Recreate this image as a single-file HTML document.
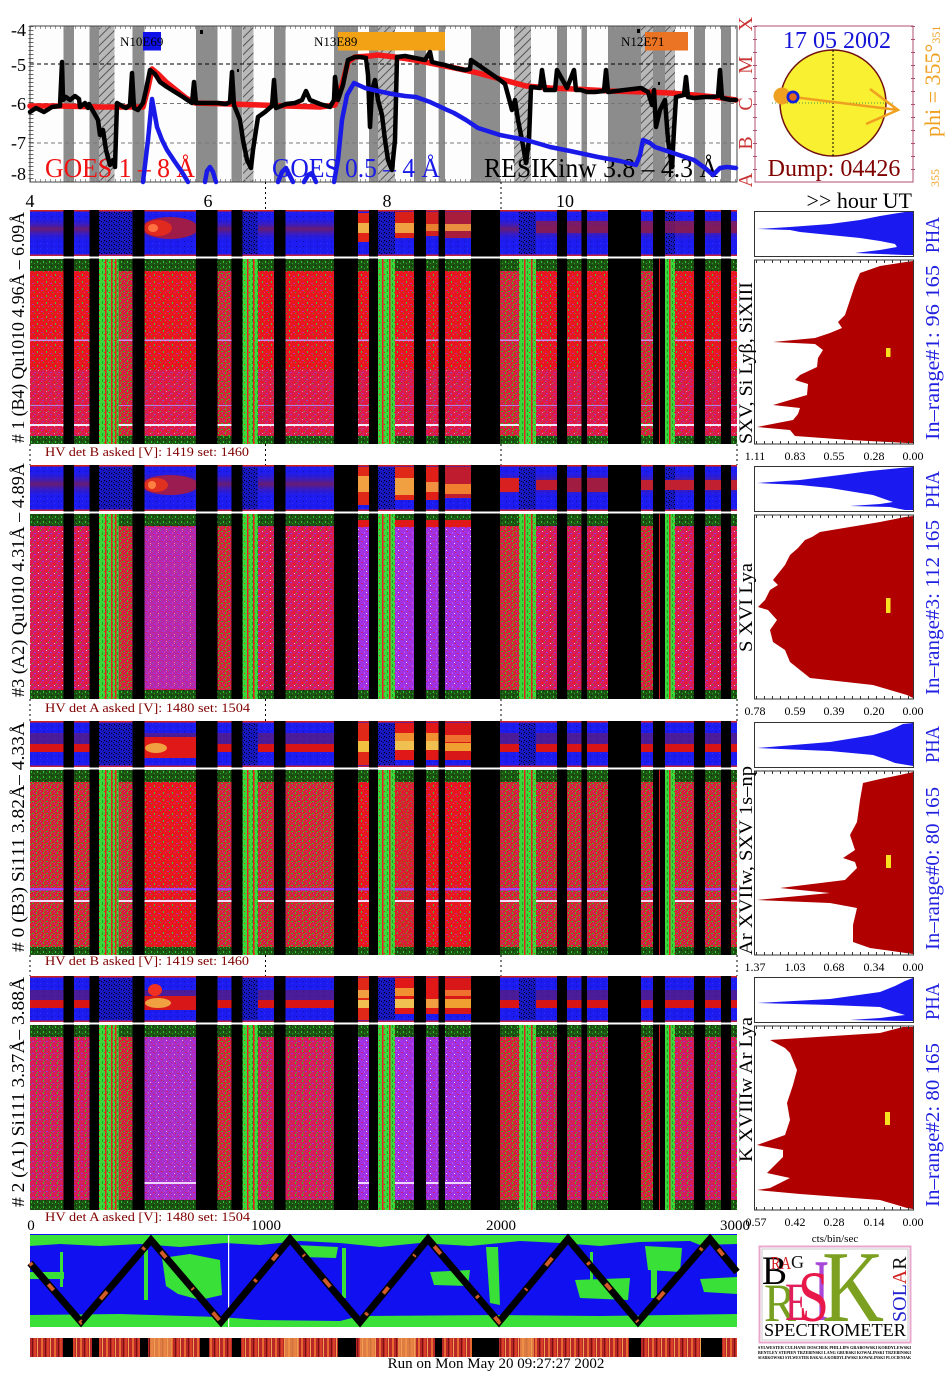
<!DOCTYPE html>
<html><head><meta charset="utf-8"><style>
html,body{margin:0;padding:0;background:#fff;}
svg{display:block;}
text{font-family:"Liberation Serif",serif;}
</style></head><body>
<svg width="948" height="1380" viewBox="0 0 948 1380" xmlns="http://www.w3.org/2000/svg">
<defs>
<pattern id="pR" width="9" height="7" patternUnits="userSpaceOnUse"><rect width="9" height="7" fill="#e8161f"/><rect x="1" y="1" width="1" height="2" fill="#3cc83c"/><rect x="5" y="3" width="2" height="1" fill="#c42aa8"/><rect x="7" y="5" width="1" height="1" fill="#2fb52f"/><rect x="3" y="5" width="1" height="1" fill="#e03a90"/></pattern>
<pattern id="pM" width="8" height="7" patternUnits="userSpaceOnUse"><rect width="8" height="7" fill="#d81c58"/><rect x="2" y="1" width="2" height="1" fill="#9a3ae0"/><rect x="5" y="3" width="2" height="2" fill="#f01818"/><rect x="0" y="5" width="1" height="1" fill="#30c030"/><rect x="6" y="6" width="1" height="1" fill="#e8b8f8"/><rect x="1" y="3" width="1" height="1" fill="#c030c8"/></pattern>
<pattern id="pP" width="8" height="7" patternUnits="userSpaceOnUse"><rect width="8" height="7" fill="#a032e4"/><rect x="1" y="2" width="2" height="1" fill="#d21c78"/><rect x="6" y="4" width="1" height="1" fill="#f4d8ff"/><rect x="4" y="0" width="1" height="2" fill="#c050f0"/><rect x="7" y="6" width="1" height="1" fill="#e02050"/></pattern>
<pattern id="pX" width="7" height="6" patternUnits="userSpaceOnUse"><rect width="7" height="6" fill="#d42436"/><rect x="1" y="0" width="1" height="2" fill="#2ac82a"/><rect x="4" y="3" width="2" height="1" fill="#2ab82a"/><rect x="2" y="4" width="1" height="1" fill="#38d038"/><rect x="6" y="1" width="1" height="1" fill="#b02ab0"/><rect x="5" y="5" width="1" height="1" fill="#c030b0"/></pattern>
<pattern id="pN" width="7" height="6" patternUnits="userSpaceOnUse"><rect width="7" height="6" fill="#d41e5c"/><rect x="1" y="0" width="1" height="2" fill="#2ac82a"/><rect x="4" y="3" width="2" height="1" fill="#9a34d8"/><rect x="6" y="1" width="1" height="1" fill="#f01818"/><rect x="2" y="4" width="1" height="1" fill="#32c032"/></pattern>
<pattern id="pDG" width="6" height="5" patternUnits="userSpaceOnUse"><rect width="6" height="5" fill="#1c5212"/><rect x="1" y="1" width="1" height="2" fill="#30c830"/><rect x="4" y="3" width="1" height="1" fill="#28a828"/><rect x="3" y="0" width="1" height="1" fill="#0a2a0a"/></pattern>
<pattern id="pGr" width="5" height="6" patternUnits="userSpaceOnUse"><rect width="5" height="6" fill="#3ad83a"/><rect x="2" y="1" width="1" height="3" fill="#20a020"/><rect x="4" y="4" width="1" height="1" fill="#e82020"/></pattern>
<pattern id="pB" width="7" height="5" patternUnits="userSpaceOnUse"><rect width="7" height="5" fill="#1c1cf0"/><rect x="2" y="1" width="1" height="1" fill="#1010a0"/><rect x="5" y="3" width="1" height="1" fill="#3030f8"/></pattern>
<pattern id="pBd" width="5" height="4" patternUnits="userSpaceOnUse"><rect width="5" height="4" fill="#1818c0"/><rect x="1" y="1" width="1" height="1" fill="#000030"/><rect x="3" y="2" width="1" height="1" fill="#06065a"/><rect x="4" y="0" width="1" height="1" fill="#000"/></pattern>
<pattern id="hatch" width="6" height="6" patternUnits="userSpaceOnUse" patternTransform="rotate(45)"><rect width="6" height="6" fill="#b8b8b8"/><rect width="1" height="6" fill="#555"/></pattern>
<pattern id="pCB" width="13" height="20" patternUnits="userSpaceOnUse"><rect width="13" height="20" fill="#b82828"/><rect x="2" width="2" height="20" fill="#e86a30"/><rect x="6" width="1" height="20" fill="#7a1010"/><rect x="8" width="2" height="20" fill="#d84028"/><rect x="11" width="1" height="20" fill="#f0a050"/></pattern>
<linearGradient id="gBand" x1="0" y1="0" x2="0" y2="1"><stop offset="0" stop-color="#1c1cf0" stop-opacity="0"/><stop offset="0.5" stop-color="#6a1c70"/><stop offset="1" stop-color="#1c1cf0" stop-opacity="0"/></linearGradient>
<g id="blk" fill="#000">
<rect x="63.5" y="0" width="10.5" height="234"/><rect x="89.5" y="0" width="9.5" height="234"/><rect x="132.5" y="0" width="12" height="234"/><rect x="196" y="0" width="21.5" height="234"/><rect x="231.5" y="0" width="11" height="234"/><rect x="274" y="0" width="11.5" height="234"/><rect x="334" y="0" width="24" height="234"/><rect x="369" y="0" width="9" height="234"/><rect x="414" y="0" width="12" height="234"/><rect x="438.6" y="0" width="6.4" height="234"/><rect x="471" y="0" width="29" height="234"/><rect x="557" y="0" width="10" height="234"/><rect x="581.5" y="0" width="5.5" height="234"/><rect x="608" y="0" width="33" height="234"/><rect x="653" y="0" width="12" height="234"/><rect x="694" y="0" width="11" height="234"/><rect x="721" y="0" width="10" height="234"/>
<rect x="659" y="49" width="1" height="185" fill="#d02020"/>
</g>
<g id="grn">
<rect x="99" y="49" width="19.6" height="185" fill="url(#pGr)"/><rect x="105" y="49" width="1.5" height="185" fill="#e82020"/><rect x="111" y="49" width="1.5" height="185" fill="#e82020"/><rect x="115" y="49" width="1.5" height="185" fill="#e82020"/>
<rect x="242.5" y="49" width="15.5" height="185" fill="url(#pGr)"/><rect x="247" y="49" width="1.5" height="185" fill="#e82020"/><rect x="253" y="49" width="1.5" height="185" fill="#e82020"/>
<rect x="378" y="49" width="17" height="185" fill="url(#pGr)"/><rect x="382" y="49" width="1.5" height="185" fill="#e82020"/><rect x="389" y="49" width="1.5" height="185" fill="#e82020"/>
<rect x="519" y="49" width="17" height="185" fill="url(#pGr)"/><rect x="524" y="49" width="1.5" height="185" fill="#e82020"/><rect x="531" y="49" width="1.5" height="185" fill="#e82020"/>
<rect x="665" y="49" width="10" height="185" fill="url(#pGr)"/><rect x="669" y="49" width="1.5" height="185" fill="#e82020"/>
</g>
<g id="gray">
<rect x="63.5" y="26" width="10.5" height="156"/><rect x="89.5" y="26" width="9.5" height="156"/><rect x="132.5" y="26" width="12" height="156"/><rect x="196" y="26" width="21.5" height="156"/><rect x="231.5" y="26" width="11" height="156"/><rect x="274" y="26" width="11.5" height="156"/><rect x="334" y="26" width="24" height="156"/><rect x="369" y="26" width="9" height="156"/><rect x="414" y="26" width="12" height="156"/><rect x="438.6" y="26" width="6.4" height="156"/><rect x="471" y="26" width="29" height="156"/><rect x="557" y="26" width="10" height="156"/><rect x="581.5" y="26" width="5.5" height="156"/><rect x="608" y="26" width="33" height="156"/><rect x="653" y="26" width="12" height="156"/><rect x="694" y="26" width="11" height="156"/><rect x="721" y="26" width="10" height="156"/>
</g>
</defs>

<!-- ============ TOP CHART ============ -->
<rect x="30" y="26" width="707" height="156" fill="#fdfdfd"/>
<use href="#gray" fill="#8c8c8c"/>
<g fill="url(#hatch)">
<rect x="99" y="26" width="15.5" height="156"/><rect x="243" y="26" width="10.5" height="156"/><rect x="378" y="26" width="17" height="156"/><rect x="514" y="26" width="17" height="156"/><rect x="641" y="26" width="12" height="156"/><rect x="665" y="26" width="10" height="156"/>
</g>
<line x1="30" y1="64" x2="737" y2="64" stroke="#000" stroke-width="1" stroke-dasharray="4,3"/>
<line x1="30" y1="103.5" x2="737" y2="103.5" stroke="#777" stroke-width="1" stroke-dasharray="4,3"/>
<line x1="30" y1="143" x2="737" y2="143" stroke="#777" stroke-width="1" stroke-dasharray="4,3"/>
<line x1="31" y1="26" x2="31" y2="182" stroke="#666" stroke-width="5" stroke-dasharray="1,3"/>
<line x1="30" y1="27.5" x2="737" y2="27.5" stroke="#999" stroke-width="3" stroke-dasharray="1,4"/>
<line x1="30" y1="180.5" x2="737" y2="180.5" stroke="#999" stroke-width="3" stroke-dasharray="1,4"/>
<rect x="30" y="26" width="707" height="156" fill="none" stroke="#444" stroke-width="1"/>
<!-- region labels -->
<rect x="143" y="32" width="18" height="18.5" fill="#1010e8"/>
<rect x="338" y="32" width="107" height="18.5" fill="#f2a214"/>
<rect x="645" y="32" width="43" height="18.5" fill="#ea7424"/>
<text x="120" y="46" font-size="13" fill="#000">N10E69</text>
<text x="314" y="46" font-size="13" fill="#000">N13E89</text>
<text x="621" y="46" font-size="13" fill="#000">N12E71</text>
<rect x="200" y="30" width="3" height="4" fill="#000"/><rect x="637" y="29" width="3" height="4" fill="#000"/><rect x="237" y="69" width="2" height="3" fill="#000"/><rect x="658" y="82" width="2" height="3" fill="#000"/>
<!-- legend texts -->
<text x="45" y="177" font-size="27" fill="#f01010" textLength="150" lengthAdjust="spacingAndGlyphs">GOES 1 – 8 Å</text>
<text x="272" y="177" font-size="27" fill="#1a1ae8" textLength="168" lengthAdjust="spacingAndGlyphs">GOES 0.5 – 4 Å</text>
<text x="484" y="177" font-size="27" fill="#000" textLength="234" lengthAdjust="spacingAndGlyphs">RESIKinw 3.8 – 4.3 Å</text>
<!-- curves -->
<g fill="none" stroke-linejoin="round" stroke-linecap="round">
<path d="M30,106 L60,106 L100,107 L143,107 L148,88 L152,69 L158,74 L166,82 L176,90 L186,98 L195,103 L230,104 L260,105 L287,106 L320,107 L335,105 L342,85 L348,62 L355,57 L370,56 L378,55 L395,57 L415,60 L430,63 L455,68 L478,73 L500,79 L526,86 L550,88 L574,89 L610,91 L646,92 L670,93 L694,95 L715,97 L736,100" stroke="#f41818" stroke-width="5.5"/>
<path d="M30,112 L36,108 L44,112 L52,107 L60,106 L62,62 L63,100 L66,97 L70,100 L75,96 L79,99 L80,107 L85,103 L88,108 L89,104 L98,120 L100,135 L103,130 L106,150 L110,165 L113,160 L115,167 L117,103 L122,106 L126,108 L130,105 L132,73 L134,108 L138,110 L143,103 L146,90 L150,70 L155,74 L160,82 L167,87 L175,92 L183,97 L192,103 L194,82 L196,103 L218,103 L226,104 L230,102 L232,72 L234,105 L240,120 L243,140 L247,160 L251,168 L253,150 L258,117 L265,112 L272,106 L274,80 L276,108 L286,104 L295,103 L302,100 L306,91 L310,100 L320,104 L330,107 L334,100 L335,77 L338,100 L343,85 L348,60 L355,57 L360,57 L366,58 L368,75 L370,127 L372,90 L375,80 L378,100 L382,115 L385,140 L388,160 L392,170 L395,140 L397,57 L405,56 L415,58 L425,60 L430,52 L432,62 L440,64 L445,65 L455,68 L465,70 L470,69 L471,60 L500,80 L505,84 L508,95 L512,110 L515,100 L518,120 L522,140 L526,163 L529,140 L531,87 L540,88 L542,70 L545,90 L555,90 L557,70 L567,88 L574,70 L576,90 L581,90 L587,92 L595,92 L604,91 L606,70 L608,92 L641,88 L648,92 L652,105 L654,90 L656,127 L660,110 L665,100 L668,140 L672,167 L674,130 L676,97 L684,95 L686,77 L688,97 L694,98 L705,97 L712,97 L718,96 L720,70 L722,98 L731,100 L736,100" stroke="#000" stroke-width="4.5"/>
<path d="M143,182 L148,140 L152,99 L157,127 L162,140 L167,150 L175,162 L182,172 L188,182 M205,182 L207,171 L210,167 L213,172 L216,182 M278,182 L282,172 L286,168 L290,176 L293,182 M304,182 L308,175 L312,173 L316,182 M334,182 L338,160 L342,120 L347,95 L354,83 L365,88 L378,91 L392,94 L405,96 L416,97 L430,102 L445,109 L454,113 L466,120 L478,128 L500,135 L526,140 L540,144 L550,147 L570,151 L598,157 L620,161 L636,165 L640,155 L643,140 L650,143 L655,147 L670,152 L694,160 L705,168 L713,175 L720,168 L727,167 L736,168" stroke="#1a1ae8" stroke-width="4.5"/>
</g>
<!-- y labels -->
<g font-size="18" text-anchor="end" fill="#000">
<text x="26" y="36">-4</text><text x="26" y="71">-5</text><text x="26" y="110">-6</text><text x="26" y="149">-7</text><text x="26" y="180">-8</text>
</g>
<g font-size="18" text-anchor="middle" fill="#000">
<text x="30" y="207">4</text><text x="208" y="207">6</text><text x="387" y="207">8</text><text x="565" y="207">10</text>
</g>
<!-- XMCBA -->
<g font-size="20" fill="#c83232" text-anchor="middle">
<text transform="translate(752,24) rotate(-90)">X</text>
<text transform="translate(752,65) rotate(-90)">M</text>
<text transform="translate(752,104) rotate(-90)">C</text>
<text transform="translate(752,143) rotate(-90)">B</text>
<text transform="translate(752,180) rotate(-90)">A</text>
</g>
<!-- sun box -->
<rect x="755" y="26" width="158" height="156" fill="#fff" stroke="#b05070" stroke-width="1"/>
<line x1="755" y1="26" x2="755" y2="182" stroke="#b05070" stroke-width="4" stroke-dasharray="1,12"/>
<line x1="913" y1="26" x2="913" y2="182" stroke="#b05070" stroke-width="4" stroke-dasharray="1,12"/>
<circle cx="833" cy="103" r="53" fill="#f8f030" stroke="#701010" stroke-width="1.5"/>
<line x1="833" y1="50" x2="833" y2="156" stroke="#000" stroke-width="1" stroke-dasharray="2,2"/>
<line x1="772" y1="103" x2="895" y2="103" stroke="#4a9a4a" stroke-width="1" stroke-dasharray="1,2"/>
<circle cx="782" cy="96" r="8.5" fill="#f0a020"/>
<line x1="793" y1="97" x2="898" y2="110" stroke="#f0a020" stroke-width="2.5"/>
<polyline points="870,89 898,110 866,124" fill="none" stroke="#f0a020" stroke-width="2.5"/>
<circle cx="793" cy="97" r="6.5" fill="#1020e0"/>
<circle cx="793" cy="97" r="3.8" fill="#e06a20"/>
<text x="837" y="48" font-size="24" fill="#1414d8" text-anchor="middle">17 05 2002</text>
<text x="834" y="176" font-size="24" fill="#800000" text-anchor="middle">Dump: 04426</text>
<text transform="translate(940,137) rotate(-90)" font-size="22" fill="#f0a020">phi = 355°<tspan font-size="12">351</tspan></text>
<text transform="translate(939,187) rotate(-90)" font-size="12" fill="#f0a020">355</text>
<text x="912" y="208" font-size="22" fill="#000" text-anchor="end">&gt;&gt; hour UT</text>

<!-- dashed separators -->
<g stroke="#000" stroke-width="1" stroke-dasharray="2,3">
<line x1="265.5" y1="182" x2="265.5" y2="210"/><line x1="501" y1="182" x2="501" y2="210"/>
<line x1="30" y1="444" x2="30" y2="465"/><line x1="265.5" y1="444" x2="265.5" y2="465"/><line x1="501" y1="444" x2="501" y2="465"/><line x1="737" y1="444" x2="737" y2="465"/>
<line x1="30" y1="699" x2="30" y2="721"/><line x1="265.5" y1="699" x2="265.5" y2="721"/><line x1="501" y1="699" x2="501" y2="721"/><line x1="737" y1="699" x2="737" y2="721"/>
<line x1="30" y1="955" x2="30" y2="976"/><line x1="265.5" y1="955" x2="265.5" y2="976"/><line x1="501" y1="955" x2="501" y2="976"/><line x1="737" y1="955" x2="737" y2="976"/>
</g>

<!-- ============ PANEL 1 (Y=210) ============ -->
<rect x="30" y="210" width="707" height="46" fill="url(#pB)"/>
<rect x="30" y="216" width="707" height="26" fill="url(#gBand)"/>
<rect x="99" y="212" width="33.5" height="42" fill="url(#pBd)"/>
<rect x="242.5" y="212" width="15.5" height="42" fill="url(#pBd)"/>
<rect x="378" y="212" width="17" height="42" fill="url(#pBd)"/>
<rect x="519" y="212" width="17" height="42" fill="url(#pBd)"/>
<rect x="665" y="212" width="10" height="42" fill="url(#pBd)"/>
<ellipse cx="170" cy="228" rx="28" ry="11" fill="#a01c48"/>
<ellipse cx="158" cy="228" rx="14" ry="8" fill="#e02a20"/>
<ellipse cx="153" cy="228" rx="5" ry="4" fill="#ff7040"/>
<rect x="358" y="213" width="11" height="29" fill="#e02418"/><rect x="358" y="223" width="11" height="10" fill="#f0b048"/>
<rect x="395" y="212" width="19" height="26" fill="#d82018"/><rect x="395" y="223" width="19" height="10" fill="#f0a040"/>
<rect x="426" y="212" width="12.6" height="24" fill="#d02020"/><rect x="426" y="224" width="12.6" height="7" fill="#e88030"/>
<rect x="445" y="212" width="26" height="26" fill="#a81c3c"/><rect x="445" y="224" width="26" height="7" fill="#e89040"/>
<rect x="536" y="221" width="72" height="12" fill="#8a1c50" opacity="0.8"/>
<rect x="641" y="221" width="96" height="12" fill="#8a1c50" opacity="0.8"/>
<rect x="30" y="210" width="707" height="1.5" fill="#d02020"/>
<rect x="30" y="254.5" width="707" height="1.5" fill="#c02040"/>
<rect x="30" y="259" width="707" height="185" fill="url(#pR)"/>
<rect x="30" y="370" width="707" height="66" fill="url(#pM)" opacity="0.75"/>
<rect x="30" y="259" width="707" height="12" fill="url(#pDG)"/>
<rect x="30" y="436" width="707" height="8" fill="url(#pDG)"/>
<g fill="url(#pX)"><rect x="118.6" y="271" width="14" height="165"/><rect x="217.5" y="271" width="14" height="165"/><rect x="500" y="271" width="19" height="165"/><rect x="641" y="271" width="12" height="165"/></g>
<rect x="30" y="339.5" width="707" height="1.5" fill="#c890f0"/>
<rect x="30" y="405" width="707" height="1" fill="#b878e8"/>
<rect x="30" y="424" width="707" height="2" fill="#f4e8ff"/>
<use href="#grn" transform="translate(0,210)"/>
<use href="#blk" transform="translate(0,210)"/>
<rect x="30" y="256.5" width="707" height="2" fill="#fff"/>

<!-- ============ PANEL 2 (Y=465) ============ -->
<rect x="30" y="465" width="707" height="46" fill="url(#pB)"/>
<rect x="30" y="470" width="707" height="28" fill="url(#gBand)"/>
<rect x="99" y="467" width="33.5" height="42" fill="url(#pBd)"/>
<rect x="242.5" y="467" width="15.5" height="42" fill="url(#pBd)"/>
<rect x="378" y="467" width="17" height="42" fill="url(#pBd)"/>
<rect x="519" y="467" width="17" height="42" fill="url(#pBd)"/>
<rect x="665" y="467" width="10" height="42" fill="url(#pBd)"/>
<ellipse cx="170" cy="485" rx="28" ry="10" fill="#9a1c50"/>
<ellipse cx="156" cy="485" rx="12" ry="7" fill="#e03020"/>
<circle cx="152" cy="485" r="4" fill="#ff8040"/>
<rect x="358" y="467" width="11" height="38" fill="#e02818"/><rect x="358" y="476" width="11" height="16" fill="#f0a040"/>
<rect x="395" y="467" width="19" height="33" fill="#e02818"/><rect x="395" y="478" width="19" height="17" fill="#f0a040"/>
<rect x="426" y="467" width="12.6" height="33" fill="#e02018"/><rect x="426" y="482" width="12.6" height="10" fill="#f09040"/>
<rect x="445" y="467" width="26" height="31" fill="#c01c30"/><rect x="445" y="484" width="26" height="10" fill="#f08030"/>
<rect x="500" y="478" width="19" height="14" fill="#d82020"/>
<rect x="536" y="480" width="21" height="10" fill="#c01c30"/>
<rect x="567" y="478" width="41" height="14" fill="#a01c40"/>
<rect x="641" y="480" width="96" height="10" fill="#c02030"/>
<rect x="202" y="466" width="1.2" height="44" fill="#f0a040"/>
<rect x="30" y="465" width="707" height="1.5" fill="#d02020"/>
<rect x="30" y="509.5" width="707" height="1.5" fill="#c02040"/>
<rect x="30" y="514" width="707" height="185" fill="url(#pM)"/>
<rect x="144.5" y="527" width="51.5" height="162" fill="url(#pP)" opacity="0.6"/>
<g fill="url(#pP)"><rect x="358" y="526" width="11" height="164"/><rect x="395" y="526" width="19" height="164"/><rect x="426" y="526" width="12.6" height="164"/><rect x="445" y="526" width="26" height="164"/></g>
<rect x="30" y="514" width="707" height="12" fill="url(#pDG)"/>
<rect x="30" y="690" width="707" height="9" fill="url(#pDG)"/>
<g fill="#e01818"><rect x="358" y="520" width="11" height="7"/><rect x="395" y="520" width="19" height="7"/><rect x="426" y="520" width="12.6" height="7"/><rect x="445" y="520" width="26" height="7"/></g>
<g fill="url(#pX)"><rect x="118.6" y="526" width="14" height="164"/><rect x="217.5" y="526" width="14" height="164"/><rect x="500" y="526" width="19" height="164"/><rect x="641" y="526" width="12" height="164"/></g>
<use href="#grn" transform="translate(0,465)"/>
<use href="#blk" transform="translate(0,465)"/>
<rect x="30" y="511.5" width="707" height="2" fill="#fff"/>

<!-- ============ PANEL 3 (Y=721) ============ -->
<rect x="30" y="721" width="707" height="46" fill="url(#pB)"/>
<rect x="30" y="733" width="707" height="12" fill="#6a1c60" opacity="0.6"/>
<rect x="30" y="744" width="707" height="8" fill="#d81414"/>
<rect x="99" y="723" width="33.5" height="42" fill="url(#pBd)"/>
<rect x="242.5" y="723" width="15.5" height="42" fill="url(#pBd)"/>
<rect x="378" y="723" width="17" height="42" fill="url(#pBd)"/>
<rect x="519" y="723" width="17" height="42" fill="url(#pBd)"/>
<rect x="144.5" y="737" width="51.5" height="21" fill="#e01818"/>
<ellipse cx="156" cy="748" rx="11" ry="5" fill="#f0a040"/>
<rect x="358" y="723" width="11" height="42" fill="#e02818"/><rect x="358" y="741" width="11" height="11" fill="#f0c040"/>
<g><rect x="395" y="723" width="19" height="37" fill="#e01818"/><rect x="395" y="733" width="19" height="8" fill="#f09030"/><rect x="395" y="741" width="19" height="9" fill="#f0c050"/></g>
<g><rect x="426" y="723" width="12.6" height="37" fill="#e01818"/><rect x="426" y="733" width="12.6" height="8" fill="#f09030"/><rect x="426" y="741" width="12.6" height="9" fill="#f0c050"/></g>
<g><rect x="445" y="723" width="26" height="37" fill="#d81818"/><rect x="445" y="735" width="26" height="7" fill="#f07030"/><rect x="445" y="743" width="26" height="8" fill="#f0a030"/></g>
<rect x="701" y="722" width="1.2" height="44" fill="#f0a040"/>
<rect x="30" y="721" width="707" height="1.5" fill="#d02020"/>
<rect x="30" y="765.5" width="707" height="1.5" fill="#c02040"/>
<rect x="30" y="770" width="707" height="185" fill="url(#pX)"/>
<g fill="url(#pR)"><rect x="144.5" y="782" width="51.5" height="165"/><rect x="358" y="782" width="11" height="165"/><rect x="426" y="782" width="12.6" height="165"/><rect x="445" y="782" width="26" height="165"/></g>
<rect x="395" y="782" width="19" height="165" fill="url(#pR)" opacity="0.5"/>
<rect x="30" y="770" width="707" height="12" fill="url(#pDG)"/>
<rect x="30" y="947" width="707" height="8" fill="url(#pDG)"/>
<rect x="30" y="888" width="707" height="2.5" fill="#a040f0"/>
<rect x="30" y="900" width="707" height="2" fill="#f0e0ff"/>
<use href="#grn" transform="translate(0,721)"/>
<use href="#blk" transform="translate(0,721)"/>
<rect x="30" y="767.5" width="707" height="2" fill="#fff"/>

<!-- ============ PANEL 4 (Y=976) ============ -->
<rect x="30" y="976" width="707" height="46" fill="url(#pB)"/>
<rect x="30" y="990" width="707" height="10" fill="#6a1c60" opacity="0.6"/>
<rect x="30" y="1000" width="707" height="8" fill="#d81414"/>
<rect x="99" y="978" width="33.5" height="42" fill="url(#pBd)"/>
<rect x="242.5" y="978" width="15.5" height="42" fill="url(#pBd)"/>
<rect x="378" y="978" width="17" height="42" fill="url(#pBd)"/>
<rect x="519" y="978" width="17" height="42" fill="url(#pBd)"/>
<rect x="144.5" y="996" width="51.5" height="14" fill="#d81818"/>
<ellipse cx="155" cy="990" rx="7" ry="6" fill="#f03020"/>
<ellipse cx="158" cy="1003" rx="13" ry="5" fill="#f0a040"/>
<rect x="358" y="978" width="11" height="42" fill="#e02818"/><rect x="358" y="990" width="11" height="8" fill="#f0a040"/><rect x="358" y="1000" width="11" height="8" fill="#f0c050"/>
<g><rect x="395" y="978" width="19" height="36" fill="#e01818"/><rect x="395" y="988" width="19" height="8" fill="#f09030"/><rect x="395" y="999" width="19" height="9" fill="#f0c050"/></g>
<g><rect x="426" y="978" width="12.6" height="36" fill="#e01818"/><rect x="426" y="999" width="12.6" height="9" fill="#f0a040"/></g>
<g><rect x="445" y="978" width="26" height="36" fill="#d81818"/><rect x="445" y="990" width="26" height="6" fill="#f07030"/><rect x="445" y="999" width="26" height="9" fill="#f0a030"/></g>
<rect x="201" y="977" width="1.2" height="44" fill="#f0a040"/><rect x="419" y="977" width="1.2" height="44" fill="#f0c040"/>
<rect x="30" y="976" width="707" height="1.5" fill="#d02020"/>
<rect x="30" y="1020.5" width="707" height="1.5" fill="#c02040"/>
<rect x="30" y="1025" width="707" height="185" fill="url(#pN)"/>
<rect x="144.5" y="1037" width="51.5" height="163" fill="url(#pP)" opacity="0.8"/>
<g fill="url(#pP)"><rect x="358" y="1037" width="11" height="163"/><rect x="395" y="1037" width="19" height="163"/><rect x="426" y="1037" width="12.6" height="163"/><rect x="445" y="1037" width="26" height="163"/></g>
<rect x="30" y="1025" width="707" height="12" fill="url(#pDG)"/>
<rect x="30" y="1200" width="707" height="10" fill="url(#pDG)"/>
<g fill="#ecd8ff"><rect x="144.5" y="1182" width="51.5" height="2"/><rect x="358" y="1182" width="113" height="2"/></g>
<g fill="url(#pX)"><rect x="118.6" y="1037" width="14" height="163"/><rect x="217.5" y="1037" width="14" height="163"/><rect x="500" y="1037" width="19" height="163"/><rect x="641" y="1037" width="12" height="163"/></g>
<use href="#grn" transform="translate(0,976)"/>
<use href="#blk" transform="translate(0,976)"/>
<rect x="30" y="1022.5" width="707" height="2" fill="#fff"/>

<!-- left rotated labels -->
<g font-size="18" fill="#000" style="white-space:pre">
<text transform="translate(24,443) rotate(-90)" textLength="231" lengthAdjust="spacingAndGlyphs"># 1 (B4) Qu1010 4.96Å – 6.09Å</text>
<text transform="translate(24,697) rotate(-90)" textLength="234" lengthAdjust="spacingAndGlyphs">#3 (A2) Qu1010  4.31Å – 4.89Å</text>
<text transform="translate(24,952) rotate(-90)" textLength="230" lengthAdjust="spacingAndGlyphs"># 0 (B3) Si111  3.82Å– 4.33Å</text>
<text transform="translate(24,1207) rotate(-90)" textLength="230" lengthAdjust="spacingAndGlyphs"># 2 (A1) Si111  3.37Å– 3.88Å</text>
</g>
<!-- HV labels -->
<g font-size="13" fill="#800000" style="white-space:pre">
<text x="45" y="456" textLength="204" lengthAdjust="spacingAndGlyphs">HV det B asked [V]:  1419 set:  1460</text>
<text x="45" y="712" textLength="205" lengthAdjust="spacingAndGlyphs">HV det A asked [V]:  1480 set:  1504</text>
<text x="45" y="965" textLength="204" lengthAdjust="spacingAndGlyphs">HV det B asked [V]:  1419 set:  1460</text>
<text x="45" y="1221" textLength="205" lengthAdjust="spacingAndGlyphs">HV det A asked [V]:  1480 set:  1504</text>
</g>

<!-- ============ RIGHT PANELS ============ -->
<g stroke="#333" stroke-width="1" fill="#fff">
<rect x="754.5" y="211.5" width="159" height="45"/><rect x="754.5" y="260" width="159" height="184"/>
<rect x="754.5" y="466.5" width="159" height="45"/><rect x="754.5" y="515" width="159" height="184"/>
<rect x="754.5" y="722.5" width="159" height="45"/><rect x="754.5" y="771" width="159" height="184"/>
<rect x="754.5" y="977.5" width="159" height="45"/><rect x="754.5" y="1026" width="159" height="184"/>
</g>
<g fill="#1a1af0">
<polygon points="913,212 905,212 880,216 860,220 830,224 790,227 757,229 790,230 800,232 830,235 860,238 880,241 895,244 897,247 880,250 855,253 880,254 905,255 913,255"/>
<polygon points="913,467 900,468 870,471 840,475 800,480 757,483 800,485 830,488 873,495 893,502 880,504 850,506 890,507 905,510 913,510"/>
<polygon points="913,723 903,724 890,730 873,735 830,742 757,748 830,751 873,755 885,759 895,763 913,766"/>
<polygon points="913,978 905,981 895,986 880,992 830,999 757,1003 830,1005 880,1007 895,1012 905,1015 880,1018 850,1020 905,1021 913,1021"/>
</g>
<g fill="#b00000">
<polygon points="913,261 906,262 880,266 860,273 855,285 850,300 845,315 838,322 842,328 830,333 815,338 773,342 815,344 823,350 818,358 817,367 800,375 795,380 808,384 807,395 773,405 800,408 798,414 793,420 757,427 790,430 795,436 850,440 907,443 913,443"/>
<polygon points="913,516 905,517 880,522 820,532 812,537 805,540 798,548 790,555 785,565 773,580 778,585 770,590 765,600 758,607 768,610 777,620 770,630 773,642 785,650 790,662 800,670 810,678 873,685 907,695 913,698"/>
<polygon points="913,772 900,775 880,779 863,783 860,800 857,822 850,835 855,850 843,858 855,862 857,868 845,880 780,888 830,893 757,900 830,903 857,908 853,925 853,942 870,948 913,954"/>
<polygon points="913,1027 903,1027 880,1033 770,1040 785,1048 790,1053 797,1070 793,1085 787,1103 790,1120 785,1135 757,1145 783,1150 783,1157 767,1173 790,1178 770,1188 757,1190 800,1194 880,1200 907,1208 913,1209"/>
</g>
<g fill="#f8e020">
<rect x="886" y="348" width="4.5" height="9"/><rect x="886" y="598" width="4.5" height="15"/><rect x="886" y="855" width="5" height="13"/><rect x="885" y="1112" width="5" height="13"/>
</g>
<g stroke="#333" stroke-width="3" stroke-dasharray="1,7">
<line x1="756" y1="261.5" x2="913" y2="261.5"/><line x1="756" y1="442.5" x2="913" y2="442.5"/>
<line x1="756" y1="516.5" x2="913" y2="516.5"/><line x1="756" y1="697.5" x2="913" y2="697.5"/>
<line x1="756" y1="772.5" x2="913" y2="772.5"/><line x1="756" y1="953.5" x2="913" y2="953.5"/>
<line x1="756" y1="1027.5" x2="913" y2="1027.5"/><line x1="756" y1="1208.5" x2="913" y2="1208.5"/>
</g>
<g font-size="12" fill="#000" text-anchor="middle">
<text x="755" y="460">1.11</text><text x="795" y="460">0.83</text><text x="834" y="460">0.55</text><text x="874" y="460">0.28</text><text x="913" y="460">0.00</text>
<text x="755" y="715">0.78</text><text x="795" y="715">0.59</text><text x="834" y="715">0.39</text><text x="874" y="715">0.20</text><text x="913" y="715">0.00</text>
<text x="755" y="971">1.37</text><text x="795" y="971">1.03</text><text x="834" y="971">0.68</text><text x="874" y="971">0.34</text><text x="913" y="971">0.00</text>
<text x="756" y="1226">0.57</text><text x="795" y="1226">0.42</text><text x="834" y="1226">0.28</text><text x="874" y="1226">0.14</text><text x="913" y="1226">0.00</text>
</g>
<text x="835" y="1242" font-size="11" fill="#000" text-anchor="middle">cts/bin/sec</text>
<!-- right rotated black labels -->
<g font-size="19" fill="#000" style="white-space:pre">
<text transform="translate(752,444) rotate(-90)" textLength="162" lengthAdjust="spacingAndGlyphs">SXV, Si Lyβ, SiXIII</text>
<text transform="translate(752,652) rotate(-90)" textLength="89" lengthAdjust="spacingAndGlyphs">S XVI Lya</text>
<text transform="translate(752,955) rotate(-90)" textLength="189" lengthAdjust="spacingAndGlyphs">Ar XVIIw, SXV 1s–np</text>
<text transform="translate(752,1162) rotate(-90)" textLength="145" lengthAdjust="spacingAndGlyphs">K XVIIIw Ar Lya</text>
</g>
<!-- right rotated blue labels -->
<g font-size="20" fill="#2020e0" style="white-space:pre">
<text transform="translate(939,440) rotate(-90)" textLength="175" lengthAdjust="spacingAndGlyphs">In–range#1:  96 165</text>
<text transform="translate(939,253) rotate(-90)" textLength="36" lengthAdjust="spacingAndGlyphs">PHA</text>
<text transform="translate(939,695) rotate(-90)" textLength="175" lengthAdjust="spacingAndGlyphs">In–range#3:  112 165</text>
<text transform="translate(939,508) rotate(-90)" textLength="37" lengthAdjust="spacingAndGlyphs">PHA</text>
<text transform="translate(939,950) rotate(-90)" textLength="163" lengthAdjust="spacingAndGlyphs">In–range#0:  80 165</text>
<text transform="translate(939,763) rotate(-90)" textLength="37" lengthAdjust="spacingAndGlyphs">PHA</text>
<text transform="translate(939,1207) rotate(-90)" textLength="164" lengthAdjust="spacingAndGlyphs">In–range#2:  80 165</text>
<text transform="translate(939,1020) rotate(-90)" textLength="37" lengthAdjust="spacingAndGlyphs">PHA</text>
</g>

<!-- ============ BOTTOM ============ -->
<g font-size="15" fill="#000" text-anchor="middle">
<text x="31" y="1230">0</text><text x="266" y="1230">1000</text><text x="501" y="1230">2000</text><text x="735" y="1230">3000</text>
</g>
<rect x="30" y="1234" width="707" height="93" fill="#1010f0"/>
<g fill="#38e038">
<polygon points="30,1235 737,1235 737,1244 700,1245 690,1241 640,1242 600,1246 560,1243 520,1241 470,1246 420,1243 380,1247 340,1243 300,1241 260,1245 225,1243 180,1247 140,1244 100,1246 60,1244 30,1246"/>
<polygon points="30,1315 120,1314 220,1317 260,1320 340,1321 360,1316 500,1315 600,1316 737,1314 737,1327 30,1327"/>
<polygon points="162,1258 190,1254 220,1260 222,1295 200,1300 178,1294 166,1286"/>
<rect x="30" y="1272" width="34" height="7"/>
<polygon points="295,1245 338,1247 336,1258 302,1257"/>
<polygon points="430,1272 470,1270 468,1286 434,1285"/>
<polygon points="486,1247 498,1247 500,1305 490,1303"/>
<polygon points="575,1280 630,1278 628,1300 580,1298"/>
<polygon points="645,1246 682,1248 680,1272 648,1270"/>
<polygon points="700,1279 737,1277 737,1294 704,1292"/>
<rect x="144" y="1250" width="4" height="50"/><rect x="342" y="1248" width="4" height="50"/><rect x="651" y="1248" width="6" height="50"/><rect x="590" y="1252" width="3" height="44"/><rect x="60" y="1252" width="3" height="35"/>
</g>
<rect x="228" y="1235" width="1.2" height="92" fill="#fff"/>
<path d="M30,1263 L81,1322 L151,1240 L221,1322 L290,1239 L360,1322 L428,1239 L499,1322 L568,1239 L638,1322 L710,1239 L737,1272" fill="none" stroke="#000" stroke-width="7"/>
<path d="M30,1263 L81,1322 L151,1240 L221,1322 L290,1239 L360,1322 L428,1239 L499,1322 L568,1239 L638,1322 L710,1239 L737,1272" fill="none" stroke="#d05a28" stroke-width="4" stroke-dasharray="3,25,8,40,2,30,10,55"/>
<!-- color bar -->
<rect x="30" y="1338" width="707" height="19" fill="url(#pCB)"/>
<g fill="#f0a050" opacity="0.7"><rect x="150" y="1338" width="22" height="19"/><rect x="285" y="1338" width="14" height="19"/><rect x="360" y="1338" width="16" height="19"/><rect x="398" y="1338" width="18" height="19"/><rect x="520" y="1338" width="14" height="19"/></g>
<g fill="#000"><rect x="63" y="1338" width="10" height="19"/><rect x="92" y="1338" width="7" height="19"/><rect x="140" y="1338" width="8" height="19"/><rect x="200" y="1338" width="9" height="19"/><rect x="232" y="1338" width="9" height="19"/><rect x="338" y="1338" width="18" height="19"/><rect x="435" y="1338" width="7" height="19"/><rect x="472" y="1338" width="27" height="19"/><rect x="629" y="1338" width="12" height="19"/><rect x="701" y="1338" width="21" height="19"/></g>
<text x="496" y="1368" font-size="15" fill="#000" text-anchor="middle">Run on Mon May 20 09:27:27 2002</text>

<!-- logo -->
<rect x="759.5" y="1246.5" width="151" height="96" fill="#fff" stroke="#e8a8cc" stroke-width="2"/>
<rect x="762" y="1249" width="146" height="91" fill="none" stroke="#c8c8c8" stroke-width="1"/>
<text x="762" y="1284" font-size="40" fill="#000" textLength="25" lengthAdjust="spacingAndGlyphs">B</text>
<text x="771" y="1269" font-size="18" fill="#d02020" textLength="20" lengthAdjust="spacingAndGlyphs">RA</text><text x="791" y="1268" font-size="18" fill="#111">G</text>
<text x="814" y="1320" font-size="88" fill="#a848d8" textLength="15" lengthAdjust="spacingAndGlyphs">I</text>
<text x="764" y="1321" font-size="54" fill="#78a020" textLength="32" lengthAdjust="spacingAndGlyphs">R</text>
<text x="785" y="1320" font-size="54" fill="#e0205a" textLength="24" lengthAdjust="spacingAndGlyphs">E</text>
<text x="798" y="1321" font-size="72" fill="#e81848" textLength="31" lengthAdjust="spacingAndGlyphs">S</text>
<text x="822" y="1321" font-size="102" fill="#7ca020" textLength="62" lengthAdjust="spacingAndGlyphs">K</text>
<text transform="translate(906,1322) rotate(-90)" font-size="20"><tspan fill="#2020d0">SOL</tspan><tspan fill="#d02020">A</tspan><tspan fill="#111">R</tspan></text>
<text x="835" y="1336" font-size="18" fill="#000" text-anchor="middle" textLength="142" lengthAdjust="spacingAndGlyphs">SPECTROMETER</text>
<g font-size="4.5" font-weight="bold" fill="#000">
<text x="758" y="1349" textLength="153" lengthAdjust="spacingAndGlyphs">SYLWESTER CULHANE DOSCHEK PHILLIPS GRABOWSKI KORDYLEWSKI</text>
<text x="758" y="1354" textLength="153" lengthAdjust="spacingAndGlyphs">BENTLEY STEPIEN TRZEBINSKI LANG GBURSKI KOWALINSKI TRZEBINSKI</text>
<text x="758" y="1359" textLength="153" lengthAdjust="spacingAndGlyphs">SIARKOWSKI SYLWESTER BAKALA KORDYLEWSKI KOWALINSKI PLOCIENIAK</text>
</g>
</svg>
</body></html>
